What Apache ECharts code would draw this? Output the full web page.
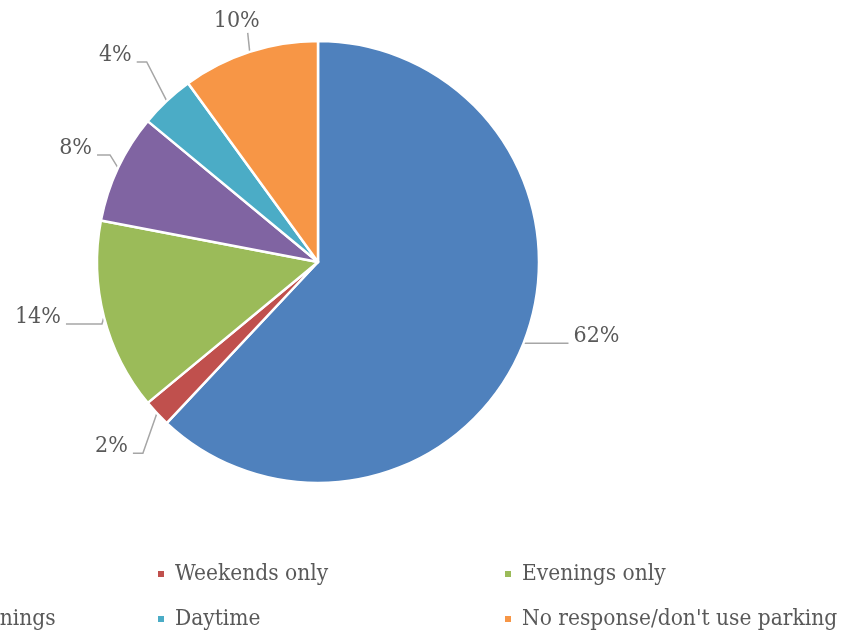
<!DOCTYPE html>
<html>
<head>
<meta charset="utf-8">
<script src="https://cdn.jsdelivr.net/npm/echarts@6/dist/echarts.min.js"></script>
<style>
  html, body { margin: 0; padding: 0; width: 842px; height: 632px; overflow: hidden; background: #ffffff; }
  /* the drawing surface runs past the left and right edges of the page */
  #chart { position: absolute; left: -200px; top: 0; width: 1200px; height: 632px; }
</style>
</head>
<body>
<div id="chart"></div>
<script>
// When respondents use parking (share of responses, %)
const categories = ['Weekdays', 'Weekends only', 'Evenings only', 'Daytime and evenings', 'Daytime', "No response/don't use parking"];
const shares = [62, 2, 14, 8, 4, 10];

// slice colours, in category order
const colors = ['#4F81BD', '#C0504D', '#9BBB59', '#8064A2', '#4BACC6', '#F79646'];
// leader line per slice: elbow offset from the slice edge [dx, dy], then horizontal run
const leaders = [[0, 0, 45], [-14, 40, 10], [-2, 7, 36], [-8, -13, 13], [-20, -39, 10], [-2, -19, 0]];

const serif = '"DejaVu Serif Condensed", "DejaVu Serif", serif';
const textGrey = '#595959';

const chart = echarts.init(document.getElementById('chart'), null, { renderer: 'canvas' });

const pieData = categories.map((name, i) => ({
  name: name,
  value: shares[i],
  itemStyle: { color: colors[i] }
}));

const legendBase = {
  orient: 'horizontal',
  left: 4,
  width: 1180,
  icon: 'rect',
  itemWidth: 8,
  itemHeight: 8,
  itemGap: 20,
  selectedMode: false,
  textStyle: {
    fontFamily: serif,
    fontSize: 22.5,
    color: textGrey,
    width: 308,
    lineHeight: 28,
    padding: [0, 0, 0, 5]
  }
};

chart.setOption({
  animation: false,
  backgroundColor: '#ffffff',
  legend: [
    Object.assign({}, legendBase, { top: 555, data: categories.slice(0, 3) }),
    Object.assign({}, legendBase, { top: 600, data: categories.slice(3) })
  ],
  series: [{
    type: 'pie',
    center: [518, 262],
    radius: 221,
    startAngle: 90,
    clockwise: true,
    avoidLabelOverlap: false,
    itemStyle: { borderColor: '#ffffff', borderWidth: 2.5 },
    emphasis: { disabled: true },
    label: {
      show: true,
      position: 'outside',
      formatter: '{c}%',
      fontFamily: serif,
      fontSize: 23,
      color: textGrey
    },
    labelLine: {
      show: true,
      length: 10,
      length2: 10,
      minTurnAngle: 0,
      maxSurfaceAngle: 180,
      lineStyle: { color: '#a6a6a6', width: 1.5 }
    },
    // leader starts where the library puts it on the slice edge, then bends as set in `leaders`
    labelLayout: function (p) {
      const pts = p.labelLinePoints;
      if (!pts || !pts.length) return {};
      const l = leaders[p.dataIndex];
      const sign = p.align === 'right' ? -1 : 1;
      const p0 = pts[0];
      const p1 = [p0[0] + l[0], p0[1] + l[1]];
      const p2 = [p1[0] + sign * l[2], p1[1]];
      if (l[2] === 0) {
        // vertical leader: label sits above its top end
        return {
          x: p1[0] + 12, y: p1[1] - 12,
          align: 'right', verticalAlign: 'middle',
          labelLinePoints: [p0, p1, p1]
        };
      }
      return {
        x: p2[0] + sign * 5, y: p2[1] - 7,
        align: sign < 0 ? 'right' : 'left', verticalAlign: 'middle',
        labelLinePoints: [p0, p1, p2]
      };
    },
    data: pieData
  }]
});
</script>
</body>
</html>
